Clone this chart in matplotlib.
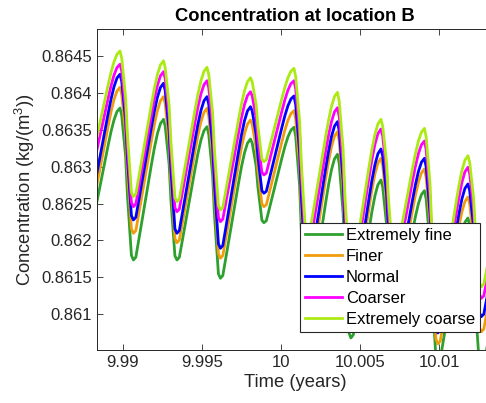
import numpy as np
import matplotlib
matplotlib.use('Agg')
import matplotlib.pyplot as plt

plt.rcParams['font.family'] = ['Liberation Sans', 'DejaVu Sans']
plt.rcParams['mathtext.default'] = 'regular'

# times (years) of the daily maxima and minima
peak_time = [9.98981, 9.99256, 9.99531, 9.99806, 10.00081, 10.00356, 10.00631, 10.00906, 10.01181, 10.01456]
trough_time = [9.98791, 9.99066, 9.99341, 9.99616, 9.99891, 10.00166, 10.00441, 10.00716, 10.00991, 10.01266]

labels = ['Extremely fine', 'Finer', 'Normal', 'Coarser', 'Extremely coarse']
colors = ['#2ea02e', '#f09c0c', '#0000ff', '#ff00ff', '#acea14']

# concentration (kg/m^3) at each maximum / minimum
fine_peak = [0.863795, 0.863642, 0.863542, 0.863375, 0.863534, 0.863168, 0.862820, 0.862675, 0.862305, 0.86220]
fine_trough = [0.862183, 0.861736, 0.861736, 0.861488, 0.862241, 0.861058, 0.860679, 0.860923, 0.860354, 0.860245]
finer_peak = [0.864076, 0.863949, 0.863791, 0.863633, 0.863759, 0.863474, 0.863114, 0.862969, 0.862589, 0.86250]
finer_trough = [0.862400, 0.862098, 0.861970, 0.861759, 0.862458, 0.861424, 0.860991, 0.861194, 0.860598, 0.860764]
normal_peak = [0.864253, 0.864130, 0.863949, 0.863813, 0.863958, 0.863610, 0.863240, 0.863114, 0.862766, 0.86265]
normal_trough = [0.862554, 0.862278, 0.862098, 0.861894, 0.862640, 0.861573, 0.861126, 0.861329, 0.860747, 0.860968]
coarser_peak = [0.864388, 0.864287, 0.864165, 0.864016, 0.864165, 0.863799, 0.863511, 0.863348, 0.862992, 0.86285]
coarser_trough = [0.862917, 0.862458, 0.862390, 0.862255, 0.862888, 0.861898, 0.861438, 0.861641, 0.860950, 0.861217]
coarse_peak = [0.864568, 0.864436, 0.864347, 0.864206, 0.864333, 0.864008, 0.863642, 0.863520, 0.863149, 0.86300]
coarse_trough = [0.863098, 0.862594, 0.862526, 0.862413, 0.863068, 0.862075, 0.861600, 0.861804, 0.861126, 0.861374]

# shape of one rise (minimum -> maximum) and one fall (maximum -> minimum)
rise_u = [0, 0.08, 0.15, 0.27, 0.38, 0.49, 0.6, 0.7, 0.8, 0.9, 1.0]
rise_f = [0, 0.02, 0.11, 0.26, 0.40, 0.54, 0.68, 0.80, 0.90, 0.97, 1.0]
fall_u = [0, 0.13, 0.27, 0.42, 0.55, 0.75, 0.85, 1.0]
fall_f = [1, 0.95, 0.82, 0.68, 0.43, 0.17, 0.03, 0]


def build(peaks, troughs):
    t, c = [], []
    for k in range(len(peak_time)):
        t0, t1 = trough_time[k], peak_time[k]
        for u, f in zip(rise_u, rise_f):
            t.append(t0 + u * (t1 - t0))
            c.append(troughs[k] + f * (peaks[k] - troughs[k]))
        if k + 1 < len(trough_time):
            t2 = trough_time[k + 1]
            for u, f in zip(fall_u[1:], fall_f[1:]):
                t.append(t1 + u * (t2 - t1))
                c.append(troughs[k + 1] + f * (peaks[k] - troughs[k + 1]))
    return t, c


series = [(fine_peak, fine_trough), (finer_peak, finer_trough), (normal_peak, normal_trough),
          (coarser_peak, coarser_trough), (coarse_peak, coarse_trough)]

fig = plt.figure(figsize=(4.86, 4.03), dpi=100)
ax = fig.add_axes([97 / 486, 1 - 350 / 403, 396 / 486, 321 / 403])

for (p, tr), lab, col in zip(series, labels, colors):
    t, c = build(p, tr)
    ax.plot(t, c, color=col, lw=2, label=lab)

ax.set_xlim(9.988356, 10.013395)
ax.set_ylim(0.860516, 0.864866)
xt = [9.99, 9.995, 10, 10.005, 10.01]
ax.set_xticks(xt)
ax.set_xticklabels(['9.99', '9.995', '10', '10.005', '10.01'])
yt = [0.861, 0.8615, 0.862, 0.8625, 0.863, 0.8635, 0.864, 0.8645]
ax.set_yticks(yt)
ax.set_yticklabels(['0.861', '0.8615', '0.862', '0.8625', '0.863', '0.8635', '0.864', '0.8645'])

ax.tick_params(direction='in', top=True, right=True, length=4, width=0.6,
               labelsize=12, colors='#262626')
for s in ax.spines.values():
    s.set_color('#262626')
    s.set_linewidth(0.7)

ax.set_xlabel('Time (years)', fontsize=13.2, color='#262626', labelpad=3)
ax.set_ylabel('Concentration (kg/(m$^3$))', fontsize=13.2, color='#262626', labelpad=3)
ax.set_title('Concentration at location B', fontsize=13.2, fontweight='bold', pad=6)

leg = ax.legend(loc='upper left', bbox_to_anchor=(300 / 486, 1 - 223 / 403),
                bbox_transform=fig.transFigure, fontsize=12, fancybox=False,
                framealpha=1, edgecolor='#262626', borderpad=0.3,
                labelspacing=0.36, handlelength=2.2, handletextpad=0.25,
                borderaxespad=0)
leg.get_frame().set_linewidth(0.8)

plt.savefig('out.png', dpi=100)
